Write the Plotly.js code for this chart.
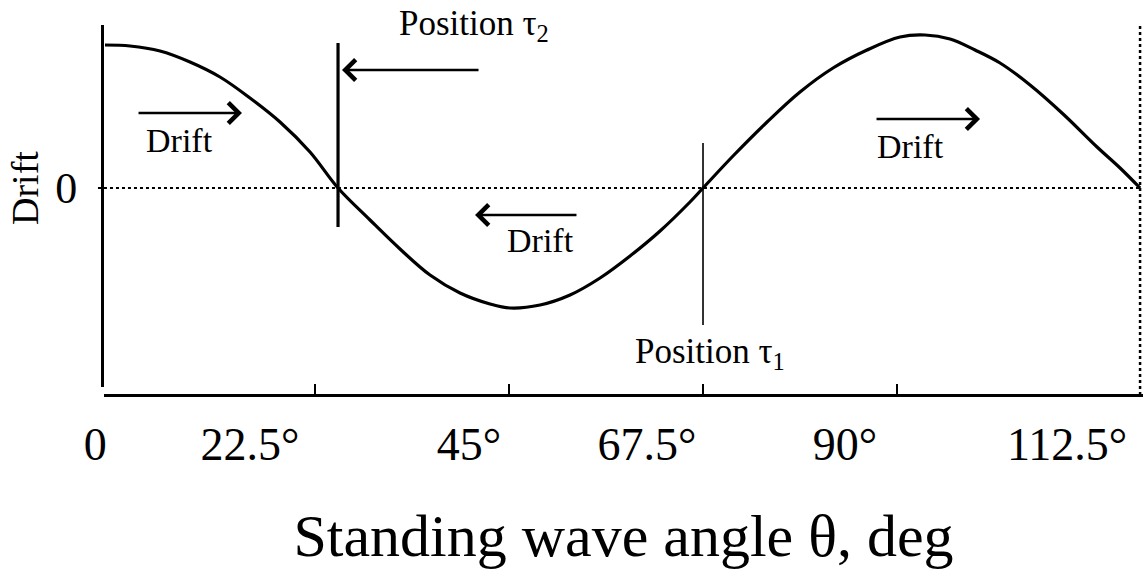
<!DOCTYPE html>
<html>
<head>
<meta charset="utf-8">
<script src="https://cdn.plot.ly/plotly-3.0.1.min.js"></script>
<style>
  html, body { margin: 0; padding: 0; background: #fff; }
  #chart { width: 1144px; height: 572px; }
</style>
</head>
<body>
<div id="chart"></div>
<script>
// Drift of the standing wave versus its angle theta (degrees)
const angleDeg = [-1.86, 1.04, 4.52, 8.0, 11.48, 14.96, 18.44, 21.92, 25.17,
                  28.88, 32.36, 35.84, 39.32, 42.8, 45.12, 48.6, 52.08, 55.56,
                  59.04, 62.52, 65.99, 67.5, 70.98, 74.93, 78.75, 82.58, 86.52,
                  90.35, 93.25, 96.15, 99.05, 101.95, 105.43, 109.26, 113.2,
                  115.87, 118.19];
const driftValue = [1.43, 1.42, 1.37, 1.26, 1.11, 0.90, 0.66, 0.36, 0.0,
                    -0.32, -0.61, -0.87, -1.05, -1.16, -1.20, -1.17, -1.07, -0.90,
                    -0.68, -0.43, -0.14, 0.0, 0.32, 0.66, 0.96, 1.20, 1.38,
                    1.51, 1.53, 1.49, 1.38, 1.25, 1.03, 0.74, 0.41,
                    0.20, 0.0];

// Tick marks on the angle axis and the labels printed beneath it
const tickAngles = [22.5, 45, 67.5, 90];
const labelAngles = [-3.0, 14.96, 40.36, 61.01, 83.97, 109.72];
const labelTexts = ['0', '22.5°', '45°', '67.5°', '90°', '112.5°'];

// Equilibrium positions (zero crossings of the drift)
const positionNames = ['Position τ<sub>2</sub>', 'Position τ<sub>1</sub>'];
const positionAngles = [25.17, 67.5];

// Drift direction arrows: start angle, end angle, level
const arrowFrom = [1.86, 53.0, 87.45, 41.64];
const arrowTo = [14.03, 41.06, 99.63, 25.63];
const arrowLevel = [0.75, -0.27, 0.69, 1.18];

// "Drift" captions under the arrows
const captionAngles = [6.79, 48.6, 91.57];
const captionLevels = [0.475, -0.525, 0.42];

const SERIF = 'Liberation Serif, Times New Roman, serif';
const INK = '#000';

// drawing style for the two position lines and their captions
const positionStyle = [
  {top: 1.45, bottom: -0.39, width: 3.2, labelX: 32.0, labelY: 1.63},
  {top: 0.45, bottom: -1.37, width: 1.6, labelX: 59.38, labelY: -1.655}
];

const traces = [];

// dotted zero level (runs slightly past the drift axis on the left)
traces.push({
  type: 'scatter', mode: 'lines', xaxis: 'x2', yaxis: 'y',
  x: [-2.67, angleDeg[angleDeg.length - 1]], y: [0, 0],
  line: {color: INK, width: 2, dash: 'dot'}, hoverinfo: 'skip'
});

positionAngles.forEach((a, i) => {
  traces.push({
    type: 'scatter', mode: 'lines', xaxis: 'x', yaxis: 'y',
    x: [a, a], y: [positionStyle[i].top, positionStyle[i].bottom],
    line: {color: INK, width: positionStyle[i].width}, hoverinfo: 'skip'
  });
});

traces.push({
  type: 'scatter', mode: 'lines', xaxis: 'x', yaxis: 'y',
  x: angleDeg, y: driftValue,
  line: {color: INK, width: 3.2, shape: 'spline', smoothing: 1},
  hoverinfo: 'skip'
});

const annotations = [];

arrowFrom.forEach((a, i) => {
  annotations.push({
    xref: 'x', yref: 'y', axref: 'x', ayref: 'y',
    x: arrowTo[i], y: arrowLevel[i], ax: a, ay: arrowLevel[i],
    text: '', showarrow: true, arrowhead: 4, arrowsize: 1.55,
    arrowwidth: 2.6, arrowcolor: INK, standoff: 0, startstandoff: 0
  });
});

captionAngles.forEach((a, i) => {
  annotations.push({
    xref: 'x', yref: 'y', x: a, y: captionLevels[i],
    xanchor: 'center', yanchor: 'middle', showarrow: false,
    text: 'Drift', font: {family: SERIF, size: 34, color: INK}
  });
});

positionNames.forEach((name, i) => {
  annotations.push({
    xref: 'x', yref: 'y', x: positionStyle[i].labelX, y: positionStyle[i].labelY,
    xanchor: 'left', yanchor: 'middle', showarrow: false,
    text: name, font: {family: SERIF, size: 35, color: INK}
  });
});

// vertical axis name, set level with the zero mark
annotations.push({
  xref: 'paper', yref: 'y', x: -0.0577, y: 0,
  xanchor: 'center', yanchor: 'middle', textangle: -90, showarrow: false,
  text: 'Drift', font: {family: SERIF, size: 38, color: INK}
});

const layout = {
  width: 1144, height: 572,
  margin: {l: 86, r: 1, t: 25, b: 177, pad: 0},
  paper_bgcolor: '#fff', plot_bgcolor: 'rgba(0,0,0,0)',
  showlegend: false, hovermode: false,
  font: {family: SERIF, color: INK},
  xaxis: {
    domain: [0.01703, 1], range: [-1.972, 118.53],
    anchor: 'free', position: 0,
    showline: true, linecolor: INK, linewidth: 3,
    ticks: 'inside', ticklen: 10, tickwidth: 2.5, tickcolor: INK,
    tickmode: 'array', tickvals: tickAngles, showticklabels: false,
    showgrid: false, zeroline: false,
    title: {text: 'Standing wave angle θ, deg', font: {family: SERIF, size: 60, color: INK}, standoff: 117}
  },
  xaxis2: {
    domain: [0, 1], range: [-4.059, 118.53],
    anchor: 'free', position: 0,
    showline: false, ticks: '',
    tickmode: 'array', tickvals: labelAngles, ticktext: labelTexts,
    tickfont: {family: SERIF, size: 46, color: INK},
    ticklabelstandoff: 18,
    showgrid: false, zeroline: false
  },
  yaxis: {
    domain: [0.02162, 1], range: [-1.99, 1.63], anchor: 'x',
    showline: true, linecolor: INK, linewidth: 3, ticks: '',
    tickmode: 'array', tickvals: [0], ticktext: ['0'],
    tickfont: {family: SERIF, size: 44, color: INK},
    ticklabelstandoff: 15,
    showgrid: false, zeroline: false
  },
  shapes: [{
    // dotted right-hand boundary
    type: 'line', xref: 'x', yref: 'paper',
    x0: angleDeg[angleDeg.length - 1], x1: angleDeg[angleDeg.length - 1], y0: 0, y1: 1.005,
    line: {color: INK, width: 2.5, dash: 'dot'}
  }],
  annotations: annotations
};

Plotly.newPlot('chart', traces, layout, {staticPlot: true, displayModeBar: false});
</script>
</body>
</html>
